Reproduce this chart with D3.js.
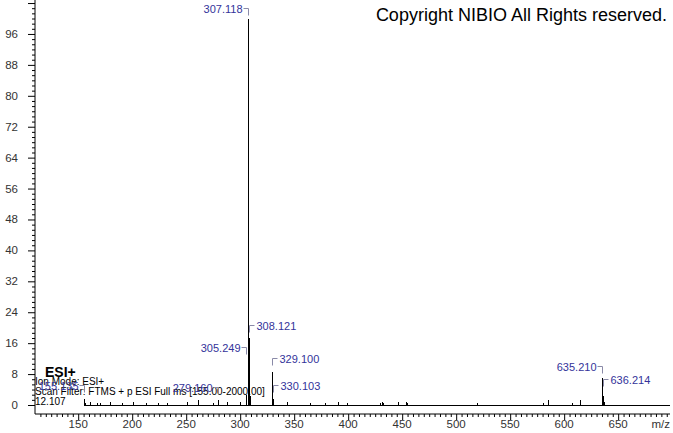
<!DOCTYPE html>
<html><head><meta charset="utf-8">
<script src="https://cdn.jsdelivr.net/npm/d3@7"></script>
<style>
html,body{margin:0;padding:0;background:#fff;}
svg{display:block;font-family:"Liberation Sans",Arial,sans-serif;}
</style></head>
<body><svg id="c" width="673" height="433"></svg>
<script>
// ---- data ----
const peakMz = [155.135,156.1,160.8,167.0,170.2,179.0,191.0,200.6,213.0,224.0,232.0,250.6,260.8,274.7,279.16,287.7,299.7,
  305.249,307.118,308.121,309.12,329.100,330.103,343.2,364.5,378.4,390.7,398.5,429.5,431.0,432.5,446.0,453.5,454.5,518.9,
  580.3,585.0,606.8,614.5,635.210,636.214,637.2];
const peakInt = [1.6,0.6,0.7,0.5,0.4,0.8,0.6,0.7,0.6,0.5,0.6,0.8,1.2,0.6,1.4,0.8,0.7,
  2.5,100,17.3,2.2,8.5,1.6,0.8,0.4,0.5,0.9,0.6,0.6,0.7,0.5,0.9,0.7,0.6,0.5,
  0.4,1.2,0.5,1.3,7.0,2.4,0.8];
const labelTexts = ["307.118","308.121","305.249","329.100","330.103","279.160","155.135","635.210","636.214"];
const labelMz = [307.118,308.121,305.249,329.100,330.103,279.160,155.135,635.210,636.214];
const xTickLabels = [150,200,250,300,350,400,450,500,550,600,650];
const yTickLabels = [0,8,16,24,32,40,48,56,64,72,80,88,96];
const infoLines = ["Ion Mode: ESI+","Scan Filter: FTMS + p ESI Full ms [155.00-2000.00]","12.107"];

// ---- label layout (level in intensity units, side) ----
const labelLevel = [102.7,20.7,15.0,12.2,5.3,4.6,5.2,10.0,6.6];
const labelSide = ["L","R","L","R","R","L","L","L","R"];

const svg = d3.select("#c");
svg.append("rect").attr("width",673).attr("height",433).attr("fill","#fff");

const x = d3.scaleLinear().domain([110,698]).range([35,670]);
const y = d3.scaleLinear().domain([0,100]).range([405,18.5]);

// info text (drawn below spectrum)
const info = svg.append("g").attr("font-size","10px").attr("fill","#000");
info.append("text").attr("x",45).attr("y",377).attr("font-size","14px").attr("font-weight","bold").text("ESI+");
infoLines.forEach((t,i)=>{
  info.append("text").attr("x",35).attr("y",385+i*10).text(t);
});

// x axis
const xMinor = d3.range(115,700,5);
const xAx = svg.append("g").attr("transform","translate(0,414)")
  .call(d3.axisBottom(x).tickValues(xMinor).tickSizeOuter(0)
    .tickSize(3).tickFormat(()=>""));
xAx.select(".domain").attr("d",`M${x(110)},0H${x(698)}`);
xAx.selectAll(".tick").filter(d=>d%50===0).select("line").attr("y2",6);
const xLab = svg.append("g").attr("font-size","11.5px").attr("fill","#333").attr("text-anchor","middle");
xTickLabels.forEach(v=>xLab.append("text").attr("x",x(v)).attr("y",428).text(v));
xLab.append("text").attr("x",670).attr("y",428).attr("text-anchor","end").text("m/z");

// y axis
const yMinor = d3.range(0,105,8/6);
const yAx = svg.append("g").attr("transform","translate(35,0)")
  .call(d3.axisLeft(y).tickValues(yMinor).tickSize(3).tickFormat(()=>"").tickSizeOuter(0));
yAx.select(".domain").attr("d",`M0,414V0`);
yAx.selectAll(".tick").filter(d=>Math.abs(d/8-Math.round(d/8))<1e-6).select("line").attr("x2",-7);
const yLab = svg.append("g").attr("font-size","11.5px").attr("fill","#333").attr("text-anchor","end");
yTickLabels.forEach(v=>yLab.append("text").attr("x",18).attr("y",y(v)+4).text(v));

// spectrum
const spec = svg.append("g").attr("stroke","#000").attr("stroke-width",1).attr("shape-rendering","crispEdges");
spec.append("line").attr("x1",x(155.135)).attr("x2",x(698)).attr("y1",y(0)).attr("y2",y(0));
peakMz.forEach((m,i)=>{
  spec.append("line").attr("x1",Math.round(x(m))+0.5).attr("x2",Math.round(x(m))+0.5)
    .attr("y1",y(0)).attr("y2",y(peakInt[i]));
});

// labels
const lab = svg.append("g").attr("font-size","11px");
labelTexts.forEach((t,i)=>{
  const px = Math.round(x(labelMz[i]))+0.5;
  const ly = Math.round(y(labelLevel[i]))+0.5;
  const gap = 7;
  lab.append("path").attr("fill","none").attr("stroke","#8a8aa8").attr("stroke-width",1)
    .attr("d", labelSide[i]==="L"
      ? `M${px-5},${ly}H${px}V${ly+gap}`
      : `M${px+5},${ly}H${px}V${ly+gap}`);
  lab.append("text").attr("fill","#33339a")
    .attr("x", labelSide[i]==="L" ? px-6 : px+7)
    .attr("y", ly+4)
    .attr("text-anchor", labelSide[i]==="L" ? "end" : "start")
    .text(t);
});

// copyright
svg.append("text").attr("x",667).attr("y",21).attr("text-anchor","end")
  .attr("font-size","18px").attr("fill","#000").text("Copyright NIBIO All Rights reserved.");
</script></body></html>
